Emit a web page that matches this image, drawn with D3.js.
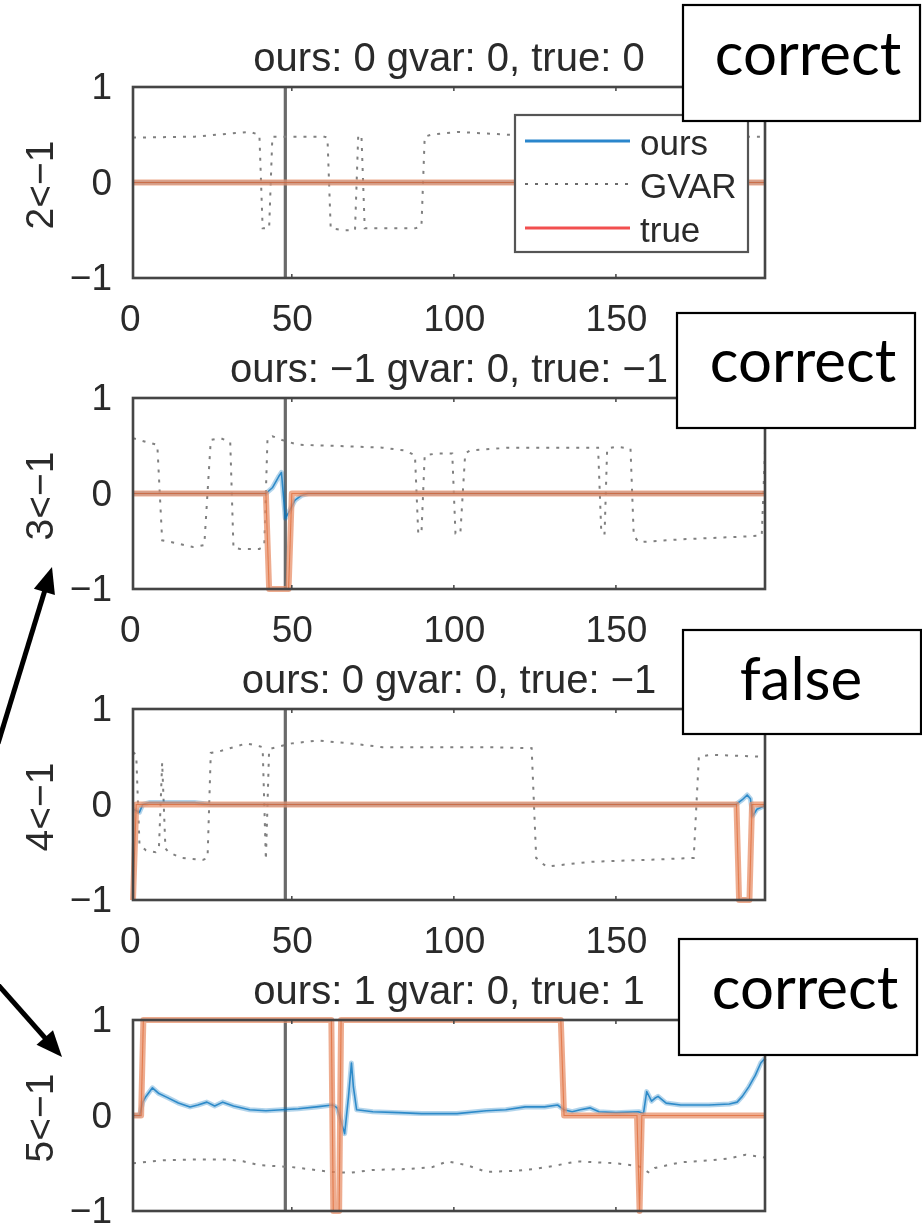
<!DOCTYPE html>
<html>
<head>
<meta charset="utf-8">
<script src="https://cdn.jsdelivr.net/npm/d3@7"></script>
<style>
  html, body { margin: 0; padding: 0; background: #fff; }
  svg { display: block; }
</style>
</head>
<body>
<svg id="fig" width="922" height="1225"></svg>
<script>
// ---- data -------------------------------------------------------------
const xTicks = [0, 50, 100, 150];
const yTicks = [-1, 0, 1];
const markerStep = 48;
const pairLabels = ["2<\u22121", "3<\u22121", "4<\u22121", "5<\u22121"];
const titles = [
  "ours: 0 gvar: 0, true: 0",
  "ours: \u22121 gvar: 0, true: \u22121",
  "ours: 0 gvar: 0, true: \u22121",
  "ours: 1 gvar: 0, true: 1"
];
const verdicts = ["correct", "correct", "false", "correct"];
const legendNames = ["ours", "GVAR", "true"];

// each series: [step, value]
const ours1 = [[1, 0], [196, 0]];
const gvar1 = [[1, 0.47], [20, 0.48], [37, 0.53], [40, 0.5], [41, -0.48], [43, -0.48], [44, 0.48], [48, 0.48],
  [60, 0.48], [61, 0.47], [62, -0.48], [66, -0.5], [69.5, -0.5], [70.5, 0.5], [71.5, 0.48], [72.5, -0.48],
  [76, -0.48], [88, -0.48], [90, -0.46], [91, 0.48], [93, 0.5], [101, 0.53], [117, 0.5], [150, 0.5],
  [191, 0.48], [196, 0.48]];
const true1 = [[1, 0], [196, 0]];

const ours2 = [[1, 0], [42, 0], [44, 0.06], [46, 0.18], [46.8, 0.22], [48, -0.26], [49, -0.2], [51, -0.07],
  [53, -0.02], [55, 0], [196, 0]];
const gvar2 = [[1, 0.58], [5, 0.54], [8.5, 0.51], [10, -0.49], [13, -0.51], [19.5, -0.56], [23, -0.54],
  [25, 0.56], [28, 0.58], [31, 0.54], [32, -0.57], [34, -0.58], [40, -0.58], [41.5, -0.55], [42.5, 0.58],
  [44, 0.6], [47, 0.56], [52, 0.51], [63, 0.5], [78, 0.48], [85, 0.45], [88, 0.4], [89, -0.41], [90, -0.42],
  [91, 0.4], [95, 0.42], [99.5, 0.42], [100.5, -0.42], [102, -0.42], [103.5, 0.42], [105, 0.45], [117, 0.48],
  [144.5, 0.48], [145.5, -0.42], [146.5, -0.42], [147.3, 0.47], [150, 0.49], [154.5, 0.47], [155.5, -0.44],
  [157, -0.51], [170, -0.48], [190, -0.45], [195, -0.44], [196, 0.45]];
const true2 = [[1, 0], [42, 0], [43, -1], [49, -1], [50, 0], [196, 0]];

const ours3 = [[1, -0.05], [3, -0.08], [4, 0], [6, 0.02], [20, 0.02], [25, 0], [187, 0], [189, 0.05],
  [190.5, 0.1], [191.5, 0.06], [192.2, -0.12], [193.5, -0.05], [196, -0.01]];
const gvar3 = [[1, 0.55], [2, 0.52], [3, -0.42], [5, -0.48], [8, -0.5], [9, -0.46], [10, 0.44], [11, -0.46],
  [12, -0.5], [16, -0.56], [22.5, -0.58], [24, -0.56], [25, 0.54], [27, 0.55], [32, 0.6], [36, 0.64],
  [40, 0.61], [41, 0.6], [42, -0.58], [43, 0.58], [44, 0.59], [50, 0.64], [58, 0.67], [68, 0.64], [78, 0.6],
  [90, 0.6], [100, 0.6], [112, 0.6], [124, 0.59], [125.4, -0.56], [128.5, -0.65], [142, -0.6], [159, -0.58],
  [174, -0.56], [175.6, 0.5], [179, 0.52], [196, 0.5]];
const true3 = [[1, -1], [2, 0], [187.2, 0], [188, -1], [191.2, -1], [192, 0], [196, 0]];

const ours4 = [[1, 0], [3, 0], [4, 0.14], [5, 0.2], [7, 0.29], [9, 0.23], [11.5, 0.19], [15, 0.13],
  [18.6, 0.09], [21, 0.11], [23.8, 0.14], [26.2, 0.1], [28.7, 0.14], [32, 0.1], [37, 0.06], [42, 0.05],
  [47, 0.06], [52, 0.07], [57.6, 0.09], [62.6, 0.11], [64, 0.08], [66.3, -0.19], [67.5, 0.2], [68.4, 0.55],
  [69, 0.3], [70, 0.06], [75, 0.04], [83, 0.03], [90, 0.02], [101, 0.02], [110, 0.05], [116, 0.06],
  [122, 0.09], [128, 0.09], [132, 0.11], [134, 0.06], [136.5, 0.04], [139, 0.06], [142, 0.08], [144.8, 0.04],
  [150, 0.03], [157, 0.04], [158.5, 0.02], [159.5, 0.25], [161, 0.15], [162, 0.18], [163, 0.2], [165.5, 0.13],
  [170, 0.11], [178.7, 0.11], [185, 0.12], [187.4, 0.14], [189, 0.2], [191, 0.3], [193, 0.42], [194.7, 0.55],
  [196, 0.6]];
const gvar4 = [[1, -0.5], [10, -0.47], [21.6, -0.46], [30, -0.46], [35, -0.48], [40, -0.52], [45, -0.53],
  [50, -0.54], [55, -0.56], [61.7, -0.59], [67.8, -0.6], [75, -0.57], [86, -0.56], [93.4, -0.54], [98, -0.48],
  [104, -0.52], [110, -0.59], [119, -0.58], [125, -0.56], [132, -0.52], [138, -0.48], [150, -0.5],
  [157, -0.53], [160.3, -0.6], [162, -0.55], [170, -0.49], [178.7, -0.47], [185, -0.45], [190, -0.41],
  [196, -0.44]];
const true4 = [[1, 0], [3.5, 0], [4.2, 1], [62.2, 1], [62.8, -1], [64.6, -1], [65.2, 1], [133, 1], [134, 0],
  [156.5, 0], [157.3, -1], [158, 0], [196, 0]];

const oursSeries = [ours1, ours2, ours3, ours4];
const gvarSeries = [gvar1, gvar2, gvar3, gvar4];
const trueSeries = [true1, true2, true3, true4];

// ---- layout -----------------------------------------------------------
const panelTops = [87, 398, 709, 1020];
const panelH = 191;
const left = 133, right = 765;
const pageH = 1225;
const verdictBoxes = [
  { x: 683, y: 5, w: 237, h: 116, cx: 808, base: 75 },
  { x: 677, y: 313, w: 238, h: 115, cx: 803, base: 382 },
  { x: 683, y: 630, w: 238, h: 104, cx: 801, base: 700 },
  { x: 679, y: 939, w: 238, h: 116, cx: 805, base: 1009 }
];

const C_OURS = "#0072BD", C_TRUE = "#D95319", C_GVAR = "#808080", C_AX = "#444", C_TXT = "#2a2a2a";
const FONT = "'Liberation Sans', Arial, sans-serif";

const svg = d3.select("#fig");
const defs = svg.append("defs");
defs.append("filter").attr("id", "soft")
  .append("feGaussianBlur").attr("stdDeviation", 0.45);

const x = d3.scaleLinear().domain([1, 196]).range([left, right]);

const charts = svg.append("g").attr("filter", "url(#soft)");

panelTops.forEach((top, i) => {
  const y = d3.scaleLinear().domain([-1, 1]).range([top + panelH, top]);
  const line = d3.line().x(d => x(d[0])).y(d => y(d[1]));
  const g = charts.append("g");

  // title
  g.append("text")
    .attr("x", (left + right) / 2).attr("y", top - 16)
    .attr("text-anchor", "middle")
    .attr("font-family", FONT).attr("font-size", 40).attr("fill", C_TXT)
    .text(titles[i]);

  // y axis label
  g.append("text")
    .attr("transform", `translate(53,${top + 98}) rotate(-90)`)
    .attr("text-anchor", "middle")
    .attr("font-family", FONT).attr("font-size", 39).attr("fill", C_TXT)
    .text(pairLabels[i]);

  // tick labels (the bottom row of the last panel falls below the page)
  const axes = [];
  if (top + panelH + 60 < pageH) {
    axes.push(g.append("g").attr("transform", `translate(0,${top + panelH})`)
      .call(d3.axisBottom(x).tickValues(xTicks).tickSize(0).tickPadding(27)));
  }
  axes.push(g.append("g").attr("transform", `translate(${left},0)`)
    .call(d3.axisLeft(y).tickValues(yTicks).tickFormat(d3.format("d")).tickSize(0).tickPadding(21)));
  axes.forEach(a => {
    a.select(".domain").remove();
    a.selectAll("text").attr("font-family", FONT).attr("font-size", 37).attr("fill", C_TXT);
  });

  // marker at the reference step
  g.append("line")
    .attr("x1", x(markerStep)).attr("x2", x(markerStep))
    .attr("y1", top).attr("y2", top + panelH)
    .attr("stroke", "#6a6a6a").attr("stroke-width", 3.2);

  // GVAR (dotted)
  g.append("path").datum(gvarSeries[i]).attr("d", line)
    .attr("fill", "none").attr("stroke", C_GVAR).attr("stroke-width", 2)
    .attr("stroke-dasharray", "3,7");

  // ours: soft halo + core
  g.append("path").datum(oursSeries[i]).attr("d", line)
    .attr("fill", "none").attr("stroke", C_OURS).attr("stroke-width", 5)
    .attr("stroke-opacity", 0.3).attr("stroke-linejoin", "round");
  g.append("path").datum(oursSeries[i]).attr("d", line)
    .attr("fill", "none").attr("stroke", C_OURS).attr("stroke-width", 1.6)
    .attr("stroke-opacity", 0.75).attr("stroke-linejoin", "round");

  // true: wide translucent band + thin core
  g.append("path").datum(trueSeries[i]).attr("d", line)
    .attr("fill", "none").attr("stroke", "#E8906A").attr("stroke-width", 6)
    .attr("stroke-opacity", 0.75).attr("stroke-linejoin", "round");
  g.append("path").datum(trueSeries[i]).attr("d", line)
    .attr("fill", "none").attr("stroke", C_TRUE).attr("stroke-width", 1.1)
    .attr("stroke-opacity", 0.55);

  // axes box and inner tick marks
  g.append("rect")
    .attr("x", left).attr("y", top).attr("width", right - left).attr("height", panelH)
    .attr("fill", "none").attr("stroke", C_AX).attr("stroke-width", 2.6);
  const inner = xTicks.filter(t => t > 0);
  [top, top + panelH].forEach((yy, k) => {
    g.selectAll(null).data(inner).join("line")
      .attr("x1", d => x(d)).attr("x2", d => x(d))
      .attr("y1", yy).attr("y2", k === 0 ? yy + 4 : yy - 4)
      .attr("stroke", C_AX).attr("stroke-width", 1.5);
  });

  // legend (first panel only)
  if (i === 0) {
    const lg = g.append("g");
    lg.append("rect").attr("x", 515).attr("y", 115).attr("width", 233).attr("height", 137)
      .attr("fill", "#fff").attr("stroke", "#555").attr("stroke-width", 2.2);
    const rows = [141, 184, 228];
    const styles = [
      { c: "#2a86cc", w: 3, dash: null },
      { c: "#6a6a6a", w: 1.8, dash: "3,7" },
      { c: "#f25050", w: 3, dash: null }
    ];
    legendNames.forEach((name, k) => {
      lg.append("line").attr("x1", 525).attr("x2", 630).attr("y1", rows[k]).attr("y2", rows[k])
        .attr("stroke", styles[k].c).attr("stroke-width", styles[k].w)
        .attr("stroke-dasharray", styles[k].dash);
      lg.append("text").attr("x", 640).attr("y", rows[k] + 14)
        .attr("font-family", FONT).attr("font-size", 35).attr("fill", C_TXT)
        .text(name);
    });
  }
});

// ---- verdict boxes ------------------------------------------------------
verdictBoxes.forEach((b, i) => {
  svg.append("rect").attr("x", b.x).attr("y", b.y).attr("width", b.w).attr("height", b.h)
    .attr("fill", "#fff").attr("stroke", "#000").attr("stroke-width", 2.2);
  svg.append("text").attr("x", b.cx).attr("y", b.base)
    .attr("text-anchor", "middle")
    .attr("font-family", "Lato, 'Open Sans', sans-serif").attr("font-size", 60).attr("fill", "#000")
    .text(verdicts[i]);
});

// ---- arrows ---------------------------------------------------------------
function arrow(x0, y0, x1, y1) {
  const dx = x1 - x0, dy = y1 - y0, L = Math.hypot(dx, dy);
  const ux = dx / L, uy = dy / L, px = -uy, py = ux;
  const headL = 26, headW = 11;
  const bx = x1 - headL * ux, by = y1 - headL * uy;
  svg.append("line").attr("x1", x0).attr("y1", y0).attr("x2", bx + 2 * ux).attr("y2", by + 2 * uy)
    .attr("stroke", "#000").attr("stroke-width", 5);
  svg.append("path")
    .attr("d", `M${x1},${y1}L${bx + headW * px},${by + headW * py}L${bx - headW * px},${by - headW * py}Z`)
    .attr("fill", "#000");
}
arrow(-2, 743.5, 52, 567);
arrow(-10, 975.7, 62, 1057);
</script>
</body>
</html>
